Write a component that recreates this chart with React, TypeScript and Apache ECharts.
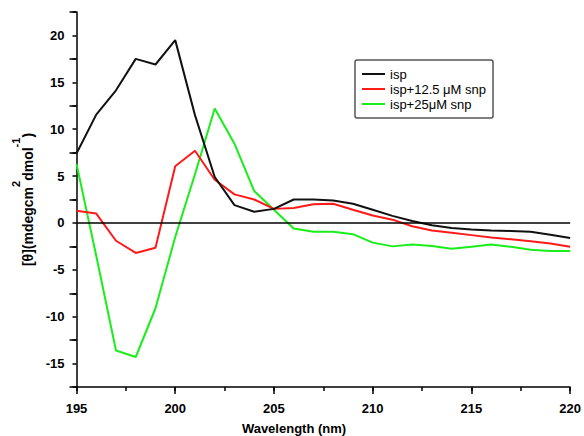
import React, { useEffect, useRef } from "react";
import * as echarts from "echarts";

const wavelengths = [195, 196, 197, 198, 199, 200, 201, 202, 203, 204, 205, 206, 207, 208, 209, 210, 211, 212, 213, 214, 215, 216, 217, 218, 219, 220];
const isp = [7.4, 11.55, 14.15, 17.5, 16.9, 19.5, 11.5, 4.9, 1.9, 1.2, 1.5, 2.5, 2.5, 2.4, 2.05, 1.4, 0.75, 0.2, -0.25, -0.55, -0.7, -0.8, -0.85, -0.95, -1.25, -1.6];
const isp125 = [1.3, 1.0, -1.9, -3.2, -2.65, 6.05, 7.7, 4.6, 3.05, 2.5, 1.5, 1.6, 2.0, 2.05, 1.4, 0.8, 0.35, -0.35, -0.8, -1.05, -1.3, -1.55, -1.75, -1.95, -2.2, -2.55];
const isp25 = [6.3, -3.5, -13.6, -14.3, -9.1, -1.5, 5.2, 12.2, 8.45, 3.4, 1.4, -0.6, -0.95, -0.95, -1.2, -2.1, -2.5, -2.3, -2.45, -2.75, -2.55, -2.3, -2.55, -2.85, -3.0, -3.0];

const seriesNames = ["isp", "isp+12.5 \u03bcM snp", "isp+25\u03bcM snp"];
const seriesColors = ["#111111", "#ff1a1a", "#1aee1a"];

const labelStep = 5;

const FONT = "'Liberation Sans', Arial, sans-serif";

export default function App() {
  const ref = useRef<HTMLDivElement>(null);
  useEffect(() => {
    if (!ref.current) return;
    const chart = echarts.init(ref.current, null, { renderer: "svg" });
    const all = [isp, isp125, isp25];
    const axisLine = { show: true, onZero: false, lineStyle: { color: "#000", width: 1.5 } };
    const minorTick = { show: true, inside: false, length: 4, lineStyle: { color: "#000", width: 1.5 } };
    const majorTick = { show: true, inside: false, length: 7, lineStyle: { color: "#000", width: 1.5 } };
    const fmt = (v: number) => (Math.abs(v % labelStep) < 1e-6 ? String(v) : "");
    chart.setOption({
      animation: false,
      backgroundColor: "#fff",
      textStyle: { fontFamily: FONT },
      grid: { left: 76.5, right: 12, top: 12, bottom: 49 },
      legend: {
        orient: "vertical",
        left: 355,
        top: 60,
        padding: [7, 7, 7, 7],
        icon: "rect",
        itemWidth: 23,
        itemHeight: 2,
        itemGap: 1,
        borderColor: "#555",
        borderWidth: 1.5,
        borderRadius: 2,
        textStyle: { fontSize: 13, color: "#000", fontFamily: FONT, lineHeight: 14 },
        data: seriesNames,
      },
      xAxis: [
        {
          type: "value",
          min: 195,
          max: 220,
          interval: 2.5,
          axisLine,
          axisTick: minorTick,
          axisLabel: { formatter: fmt, fontSize: 13, fontWeight: "bold", color: "#000", margin: 15, showMinLabel: true, showMaxLabel: true },
          splitLine: { show: false },
        },
        {
          type: "value",
          min: 195,
          max: 220,
          interval: 5,
          position: "bottom",
          axisLine: { show: false, onZero: false },
          axisTick: majorTick,
          axisLabel: { show: false },
          splitLine: { show: false },
        },
      ],
      yAxis: [
        {
          type: "value",
          min: -17.5,
          max: 22.5,
          interval: 2.5,
          position: "left",
          axisLine,
          axisTick: minorTick,
          axisLabel: { formatter: fmt, fontSize: 13, fontWeight: "bold", color: "#000", margin: 12 },
          splitLine: { show: false },
          name: "{m|[\u03b8](mdegcm}{s|2}{m|dmol}{s|-1}{m|)}",
          nameLocation: "middle",
          nameRotate: 90,
          nameGap: 41,
          nameTextStyle: {
            rich: {
              m: { fontSize: 14, fontWeight: "bold", color: "#000", fontFamily: FONT, lineHeight: 24, verticalAlign: "bottom" },
              s: { fontSize: 11, fontWeight: "bold", color: "#000", fontFamily: FONT, lineHeight: 12, verticalAlign: "top" },
            },
          },
        },
        {
          type: "value",
          min: -17.5,
          max: 22.5,
          interval: 5,
          position: "left",
          axisLine: { show: false, onZero: false },
          axisTick: majorTick,
          axisLabel: { show: false },
          splitLine: { show: false },
        },
      ],
      graphic: [
        {
          type: "text",
          x: 294,
          y: 428,
          style: {
            text: "Wavelength (nm)",
            font: `bold 13px ${FONT}`,
            fill: "#000",
            textAlign: "center",
            textVerticalAlign: "middle",
          },
        },
      ],
      series: all.map((vals, i) => ({
        name: seriesNames[i],
        type: "line",
        xAxisIndex: 0,
        yAxisIndex: 0,
        symbol: "none",
        showSymbol: false,
        data: wavelengths.map((w, k) => [w, vals[k]]),
        lineStyle: { color: seriesColors[i], width: 2 },
        itemStyle: { color: seriesColors[i] },
        z: 3 - i,
        markLine:
          i === 0
            ? {
                silent: true,
                symbol: "none",
                label: { show: false },
                lineStyle: { color: "#000", width: 1.5, type: "solid" },
                data: [{ yAxis: 0 }],
              }
            : undefined,
      })),
    });
    return () => chart.dispose();
  }, []);
  return <div ref={ref} style={{ width: 584, height: 436, position: "absolute", left: 0, top: 0 }} />;
}
